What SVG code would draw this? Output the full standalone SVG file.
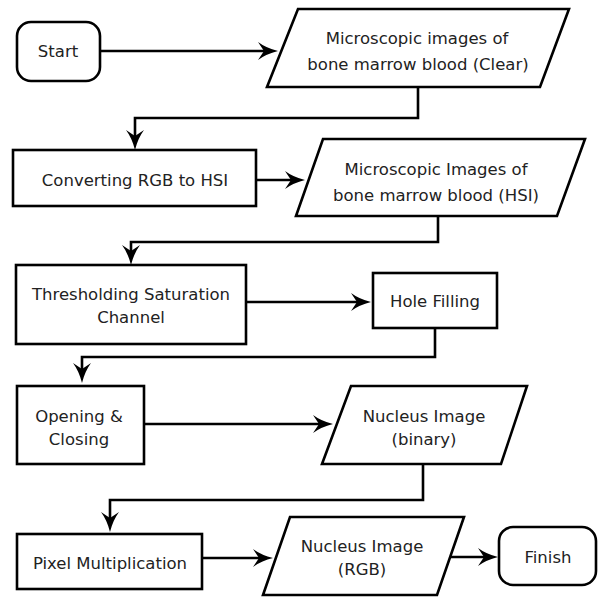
<svg xmlns="http://www.w3.org/2000/svg" width="598" height="597" viewBox="0 0 598 597">
<style>
.shape{fill:#fff;stroke:#000;stroke-width:2.6}
.conn{fill:none;stroke:#000;stroke-width:2.6}
text{font-family:"DejaVu Sans",Verdana,sans-serif;font-size:16.5px;fill:#222;text-anchor:middle}
</style>
<defs>
<marker id="arr" markerUnits="userSpaceOnUse" viewBox="0 0 20 18" markerWidth="20" markerHeight="18" refX="10" refY="9" orient="auto">
<path d="M0,0 Q8,6 20,9 Q8,12 0,18 L6,9 Z" fill="#000"/>
</marker>
</defs>
<rect width="598" height="597" fill="#fff"/>
<g id="connectors">
<path class="conn" d="M100,51 H268" marker-end="url(#arr)"/>
<path class="conn" d="M418,87 V118 H135 V140" marker-end="url(#arr)"/>
<path class="conn" d="M256,180 H295" marker-end="url(#arr)"/>
<path class="conn" d="M438,216 V242 H131 V255" marker-end="url(#arr)"/>
<path class="conn" d="M246,302 H361" marker-end="url(#arr)"/>
<path class="conn" d="M435,328 V357 H82 V373" marker-end="url(#arr)"/>
<path class="conn" d="M144,424 H323" marker-end="url(#arr)"/>
<path class="conn" d="M423,464 V500 H110 V522" marker-end="url(#arr)"/>
<path class="conn" d="M202,558 H263" marker-end="url(#arr)"/>
<path class="conn" d="M450,557 H488" marker-end="url(#arr)"/>
</g>
<g id="start">
<rect class="shape" x="17" y="22" width="83" height="59" rx="14"/>
<text x="58" y="57">Start</text>
</g>
<g id="input-clear">
<polygon class="shape" points="298,9 569,9 540,87 267,87"/>
<text x="417" y="44">Microscopic images of</text>
<text x="418" y="70">bone marrow blood (Clear)</text>
</g>
<g id="convert">
<rect class="shape" x="13" y="150" width="243" height="56"/>
<text x="135" y="186">Converting RGB to HSI</text>
</g>
<g id="images-hsi">
<polygon class="shape" points="323,139 585,139 557,216 296,216"/>
<text x="436" y="175">Microscopic Images of</text>
<text x="436" y="201">bone marrow blood (HSI)</text>
</g>
<g id="threshold">
<rect class="shape" x="16" y="265" width="230" height="79"/>
<text x="131" y="300">Thresholding Saturation</text>
<text x="131" y="323">Channel</text>
</g>
<g id="hole-filling">
<rect class="shape" x="373" y="273" width="124" height="55"/>
<text x="435" y="307">Hole Filling</text>
</g>
<g id="opening-closing">
<rect class="shape" x="17" y="386" width="127" height="78"/>
<text x="79" y="422">Opening &amp;</text>
<text x="79" y="445">Closing</text>
</g>
<g id="nucleus-binary">
<polygon class="shape" points="351,386 527,386 501,464 322,464"/>
<text x="424" y="422">Nucleus Image</text>
<text x="424" y="445">(binary)</text>
</g>
<g id="pixel-mult">
<rect class="shape" x="17" y="534" width="185" height="55"/>
<text x="110" y="569">Pixel Multiplication</text>
</g>
<g id="nucleus-rgb">
<polygon class="shape" points="290,517 464,517 437,595 263,595"/>
<text x="362" y="552">Nucleus Image</text>
<text x="362" y="575">(RGB)</text>
</g>
<g id="finish">
<rect class="shape" x="499" y="527" width="97" height="58" rx="14"/>
<text x="548" y="563">Finish</text>
</g>
</svg>
